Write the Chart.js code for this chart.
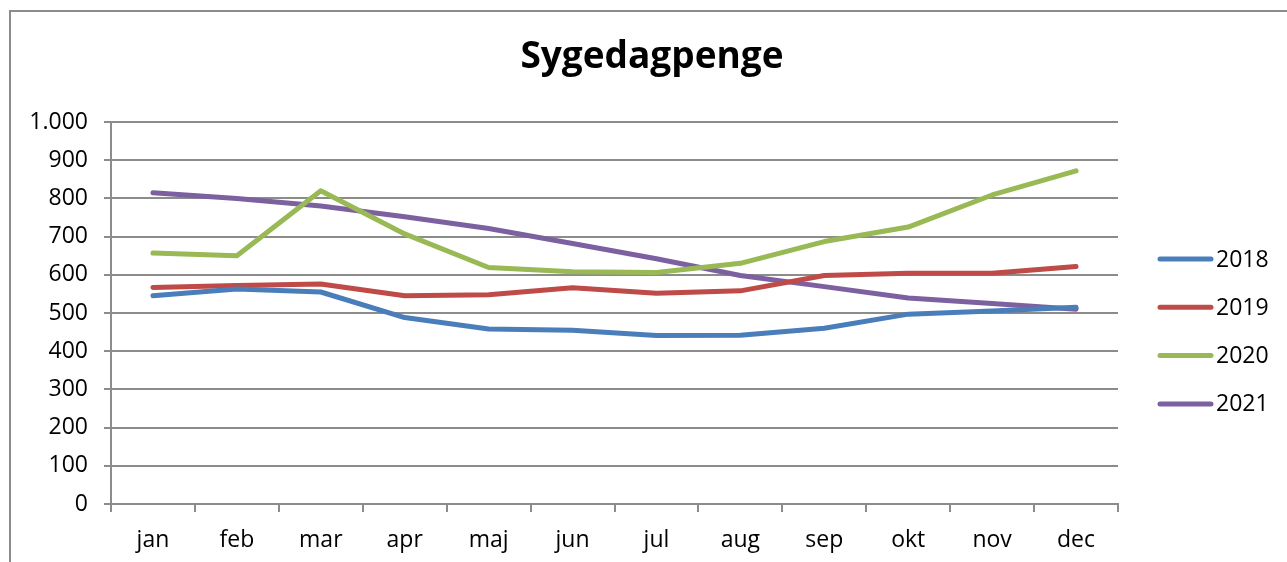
<!DOCTYPE html>
<html>
<head>
<meta charset="utf-8">
<script src="https://cdn.jsdelivr.net/npm/chart.js@4/dist/chart.umd.min.js"></script>
<style>
html,body{margin:0;padding:0;background:#fff;overflow:hidden;}
canvas{display:block;}
</style>
</head>
<body>
<canvas id="c" width="1287" height="562"></canvas>
<script>
const months = ['jan','feb','mar','apr','maj','jun','jul','aug','sep','okt','nov','dec'];
const seriesNames = ['2018','2019','2020','2021'];
const v2018 = [545, 563, 555, 488, 458, 455, 441, 442, 460, 497, 505, 515];
const v2019 = [567, 572, 576, 545, 548, 566, 552, 558, 598, 604, 604, 622];
const v2020 = [657, 650, 820, 707, 619, 608, 606, 630, 687, 725, 809, 872];
const v2021 = [815, 800, 780, 752, 721, 682, 642, 598, 569, 539, 525, 510];
const colors = ['#4A7EBB', '#BE4B48', '#98B954', '#7D60A0'];
const titleText = 'Sygedagpenge';

const FONT = "'Open Sans', 'DejaVu Sans', sans-serif";
const GRID = '#8c8c8c';

function fmt(v) { return String(v).replace(/\B(?=(\d{3})+(?!\d))/g, '.'); }

const frame = {
  id: 'frame',
  beforeDraw(chart) {
    const ctx = chart.ctx;
    ctx.save();
    ctx.fillStyle = '#fff';
    ctx.fillRect(0, 0, chart.width, chart.height);
    ctx.strokeStyle = GRID;
    ctx.lineWidth = 2;
    ctx.beginPath();
    ctx.moveTo(10, chart.height + 5);
    ctx.lineTo(10, 11);
    ctx.lineTo(chart.width + 5, 11);
    ctx.stroke();
    ctx.restore();
  }
};

const legendPlugin = {
  id: 'sideLegend',
  afterDraw(chart) {
    const ctx = chart.ctx;
    ctx.save();
    ctx.font = "23px " + FONT;
    ctx.textBaseline = 'middle';
    ctx.textAlign = 'left';
    chart.data.datasets.forEach((ds, i) => {
      const y = 259 + i * 48.3;
      ctx.strokeStyle = ds.borderColor;
      ctx.lineWidth = 5;
      ctx.lineCap = 'round';
      ctx.beginPath();
      ctx.moveTo(1160, y);
      ctx.lineTo(1211, y);
      ctx.stroke();
      ctx.fillStyle = '#000';
      ctx.fillText(ds.label, 1216, y + 1);
    });
    ctx.restore();
  }
};

const values = [v2018, v2019, v2020, v2021];
const datasets = seriesNames.map((n, i) => ({
  label: n,
  data: values[i],
  borderColor: colors[i],
  backgroundColor: colors[i],
  borderWidth: 5,
  pointRadius: 0,
  pointHoverRadius: 0,
  tension: 0,
  borderJoinStyle: 'round',
  borderCapStyle: 'round'
}));

new Chart(document.getElementById('c'), {
  type: 'line',
  data: { labels: months, datasets },
  plugins: [frame, legendPlugin],
  options: {
    responsive: false,
    animation: false,
    devicePixelRatio: 1,
    layout: { padding: { left: 17, right: 0, top: 0, bottom: 0 } },
    plugins: {
      legend: { display: false },
      tooltip: { enabled: false },
      title: {
        display: true,
        text: titleText,
        color: '#000',
        font: { family: FONT, size: 37, weight: 'bold' },
        padding: { top: 35, bottom: 42.6 }
      }
    },
    scales: {
      x: {
        offset: true,
        grid: {
          display: true,
          drawOnChartArea: false,
          drawTicks: true,
          offset: true,
          tickLength: 8,
          color: GRID,
          lineWidth: 2
        },
        border: { display: true, color: GRID, width: 2 },
        ticks: {
          color: '#000',
          font: { family: FONT, size: 23 },
          padding: 15,
          maxRotation: 0,
          autoSkip: false
        },
        afterFit(scale) { scale.height = 58; }
      },
      y: {
        min: 0,
        max: 1000,
        grid: {
          color: GRID,
          lineWidth: 2,
          drawTicks: true,
          tickLength: 7
        },
        border: { display: true, color: GRID, width: 2 },
        ticks: {
          stepSize: 100,
          color: '#000',
          font: { family: FONT, size: 23 },
          padding: 16,
          callback: (v) => fmt(v)
        },
        afterFit(scale) { scale.width = 94; }
      },
      yRight: {
        position: 'right',
        display: true,
        min: 0,
        max: 1000,
        grid: { display: false, drawTicks: false },
        border: { display: false },
        ticks: { display: false },
        afterFit(scale) { scale.width = 169; }
      }
    }
  }
});
</script>
</body>
</html>
